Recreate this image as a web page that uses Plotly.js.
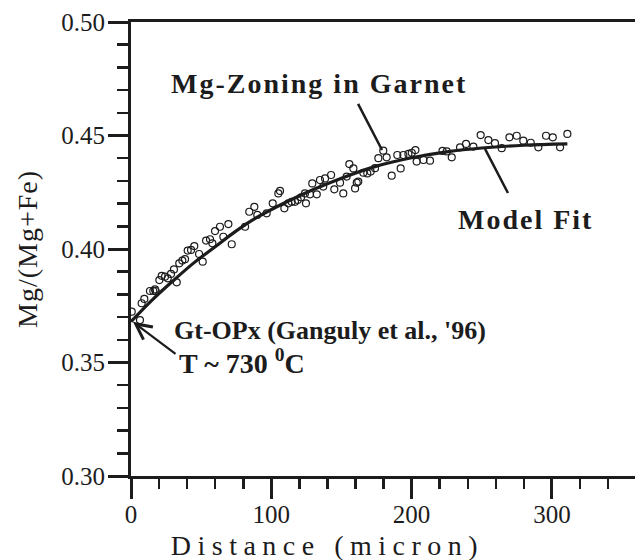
<!DOCTYPE html>
<html>
<head>
<meta charset="utf-8">
<script src="https://cdn.plot.ly/plotly-3.0.1.min.js"></script>
<style>
html,body{margin:0;padding:0;background:#fff;}
#chart{width:635px;height:560px;}
.ytitle{letter-spacing:1px;}
.annotation[data-index="0"] text{letter-spacing:2px;}
.annotation[data-index="1"] text{letter-spacing:2px;}
.annotation[data-index="4"] text{letter-spacing:6.5px;}
</style>
</head>
<body>
<div id="chart"></div>
<script>
// Measured Mg/(Mg+Fe) values along the garnet profile (distance in micron)
const distance = [0.5,6.4,7.6,9.5,13.5,15.9,17.6,17.1,20.2,21.9,24.2,26.2,28.5,30.6,32.6,34.4,36.6,38.5,40.4,42.8,45.1,48.5,51.1,53.5,56.3,58,59.9,63.4,65.8,69.4,71.8,
  81.3,84.3,87.9,90,96.7,101,105,106.2,109.3,112.1,114.5,116.9,118.8,121.2,124,124.7,127.6,132.4,129.2,134.7,138.3,137,142.6,144.9,
  151.3,153.7,158.5,159.7,162,149,155.6,160.9,165.6,168.4,170.8,173.9,176.3,179.8,182.2,185.8,189.8,192.2,194.1,197.7,200.1,202.7,203.6,208.4,213.1,
  222,225,228.6,234.5,238.8,244,249.2,254.7,259.4,264.2,269.7,274.9,279.6,284.9,290.3,295.8,300.6,305.8,311];
const mgRatio = [0.3724,0.3687,0.3761,0.378,0.3815,0.3815,0.3815,0.3822,0.3863,0.3882,0.3878,0.3871,0.389,0.391,0.3853,0.3937,0.3949,0.3955,0.3993,0.3996,0.4013,0.3978,0.3944,0.4037,0.4043,0.4025,0.4079,0.4098,0.4054,0.411,0.4021,
  0.4098,0.4164,0.4186,0.415,0.4157,0.4201,0.4245,0.4256,0.4179,0.4201,0.4208,0.4208,0.4216,0.4228,0.4245,0.4201,0.4241,0.4241,0.4289,0.4304,0.4311,0.4275,0.4326,0.4263,
  0.4245,0.4319,0.4355,0.4267,0.4297,0.4292,0.4374,0.4292,0.4336,0.4333,0.4341,0.4356,0.44,0.4433,0.4404,0.4323,0.4414,0.4355,0.4414,0.4419,0.4424,0.4436,0.4385,0.4392,0.4389,
  0.4432,0.443,0.4404,0.4448,0.4463,0.4451,0.4502,0.448,0.4466,0.4444,0.4492,0.4499,0.4477,0.4468,0.4448,0.4499,0.4492,0.4448,0.4507];

// Model fit curve
const fitDistance = [0,15,30,45,60,75,90,110,130,150,175,200,225,250,280,311];
const fitRatio = [0.368,0.3775,0.386,0.394,0.401,0.408,0.414,0.4205,0.4262,0.4312,0.4365,0.4402,0.4428,0.4445,0.4457,0.4463];

const xTickVals = [0,100,200,300];
const xTickText = ['0','100','200','300'];
const yTickVals = [0.30,0.35,0.40,0.45,0.50];
const yTickText = ['0.30','0.35','0.40','0.45','0.50'];

const ink = '#1c1c1c';
const serif = 'Liberation Serif';

const traces = [
  {x: distance, y: mgRatio, type: 'scatter', mode: 'markers', hoverinfo: 'skip',
   marker: {symbol: 'circle-open', size: 7, color: ink, line: {width: 1.2, color: ink}}},
  {x: fitDistance, y: fitRatio, type: 'scatter', mode: 'lines', hoverinfo: 'skip',
   line: {color: ink, width: 3.2, shape: 'spline', smoothing: 1}}
];

const bold = {family: serif, size: 28, color: ink, weight: 'bold'};
const tiny = {family: serif, size: 1, color: ink};

const layout = {
  width: 635, height: 560,
  margin: {l: 131, r: 0, t: 22, b: 84, pad: 0},
  paper_bgcolor: '#fff', plot_bgcolor: '#fff',
  showlegend: false,
  font: {family: serif, color: ink},
  xaxis: {
    range: [0, 359.2], showgrid: false, zeroline: false,
    showline: true, linecolor: ink, linewidth: 3, mirror: true,
    ticks: 'outside', ticklen: 20, tickwidth: 3, tickcolor: ink,
    tickvals: xTickVals, ticktext: xTickText, ticklabelstandoff: -6,
    tickfont: {family: serif, size: 25, color: ink},
    minor: {dtick: 20, tick0: 0, ticks: 'outside', ticklen: 10, tickwidth: 2.5, tickcolor: ink, showgrid: false}
  },
  yaxis: {
    range: [0.30, 0.50], showgrid: false, zeroline: false,
    showline: true, linecolor: ink, linewidth: 3,
    ticks: 'outside', ticklen: 20, tickwidth: 3, tickcolor: ink,
    tickvals: yTickVals, ticktext: yTickText, ticklabelstandoff: -2,
    tickfont: {family: serif, size: 25, color: ink},
    minor: {dtick: 0.01, tick0: 0.30, ticks: 'outside', ticklen: 11, tickwidth: 2.5, tickcolor: ink, showgrid: false},
    title: {text: 'Mg/(Mg+Fe)', font: {family: serif, size: 28, color: ink}, standoff: 16}
  },
  annotations: [
    {text: 'Mg-Zoning in Garnet', x: 134.4, y: 0.4731, xref: 'x', yref: 'y', showarrow: false, font: bold},
    {text: 'Model Fit', x: 281.2, y: 0.4128, xref: 'x', yref: 'y', showarrow: false, font: bold},
    {text: "Gt-OPx (Ganguly et al., '96)", x: 29.2, y: 0.3643, xref: 'x', yref: 'y', xanchor: 'left', showarrow: false, font: {family: serif, size: 26, color: ink, weight: 'bold'}},
    {text: 'T ~ 730 <sup>0</sup>C', x: 32.8, y: 0.3505, xref: 'x', yref: 'y', xanchor: 'left', showarrow: false, font: bold},
    {text: 'Distance (micron)', x: 0.389, y: -0.154, xref: 'paper', yref: 'paper', yanchor: 'middle', showarrow: false, font: {family: serif, size: 28, color: ink}},
    {text: ' ', x: 178.9, y: 0.4436, ax: 161.1, ay: 0.4648, xref: 'x', yref: 'y', axref: 'x', ayref: 'y', showarrow: true, arrowhead: 0, arrowwidth: 2.5, arrowcolor: ink, font: tiny},
    {text: ' ', x: 252.3, y: 0.4441, ax: 269.4, ay: 0.4238, xref: 'x', yref: 'y', axref: 'x', ayref: 'y', showarrow: true, arrowhead: 0, arrowwidth: 2.5, arrowcolor: ink, font: tiny},
    {text: ' ', x: 1.4, y: 0.3679, ax: 32.8, ay: 0.3533, xref: 'x', yref: 'y', axref: 'x', ayref: 'y', showarrow: true, arrowhead: 5, arrowsize: 1.4, arrowwidth: 2.2, arrowcolor: ink, font: tiny}
  ]
};

Plotly.newPlot('chart', traces, layout, {staticPlot: true, displayModeBar: false});
</script>
</body>
</html>
